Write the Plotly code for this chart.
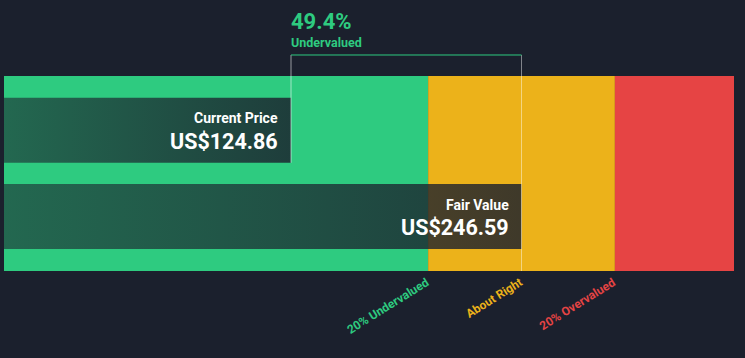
import plotly.graph_objects as go

# ---- data ----
current_price = 124.86
fair_value = 246.59
undervalued_pct = 49.4
band_labels = ["20% Undervalued", "About Right", "20% Overvalued"]
band_ratios = [0.8, 1.2]          # band edges relative to fair value
band_colors = ["#2ecb80", "#ecb21a", "#e64444"]
label_colors = ["#2ecb80", "#ecb21a", "#e64444"]

BG = "#1b202d"
X_MIN, X_MAX = -26.7, 358.8

edges = [X_MIN] + [fair_value * r for r in band_ratios] + [X_MAX]

fig = go.Figure()

# colored bands
for i in range(3):
    fig.add_shape(type="rect", xref="x", yref="y", x0=edges[i], x1=edges[i + 1],
                  y0=0, y1=1, fillcolor=band_colors[i], line_width=0, layer="below")

# value bars with gradient overlay
bars = [
    ("Current Price", current_price, 0.555, 0.889),
    ("Fair Value", fair_value, 0.113, 0.446),
]
for name, val, yb, yt in bars:
    fig.add_trace(go.Scatter(
        x=[X_MIN, val, val, X_MIN, X_MIN], y=[yb, yb, yt, yt, yb],
        mode="lines", line=dict(width=0), fill="toself",
        fillgradient=dict(type="horizontal",
                          colorscale=[[0, "rgba(27,32,45,0.58)"], [1, "rgba(27,32,45,0.83)"]]),
        hoverinfo="skip", showlegend=False))
    fig.add_annotation(x=val, y=yt - (yt - yb) * 0.32, xref="x", yref="y",
                       text=f"<b>{name}</b>", showarrow=False, xanchor="right",
                       xshift=-11, font=dict(family="Roboto", size=14, color="white"))
    fig.add_annotation(x=val, y=yb + (yt - yb) * 0.33, xref="x", yref="y",
                       text=f"<b>US${val:.2f}</b>", showarrow=False, xanchor="right",
                       xshift=-11, font=dict(family="Roboto", size=21.5, color="white"))

# bracket
top = 1.1077
fig.add_shape(type="line", xref="x", yref="y", x0=current_price, x1=current_price,
              y0=0.555, y1=top, line=dict(color="rgba(255,255,255,0.55)", width=1))
fig.add_shape(type="line", xref="x", yref="y", x0=fair_value, x1=fair_value,
              y0=0, y1=top, line=dict(color="rgba(255,255,255,0.45)", width=1))
fig.add_shape(type="line", xref="x", yref="y", x0=current_price, x1=fair_value,
              y0=top, y1=top, line=dict(color="#2ecb80", width=1))

fig.add_annotation(x=current_price, y=1.277, xref="x", yref="y", text=f"<b>{undervalued_pct}%</b>",
                   showarrow=False, xanchor="left", yanchor="middle", xshift=-2,
                   font=dict(family="Roboto", size=22, color="#2ecb80"))
fig.add_annotation(x=current_price, y=1.174, xref="x", yref="y", text="<b>Undervalued</b>",
                   showarrow=False, xanchor="left", yanchor="middle", xshift=-2,
                   font=dict(family="Roboto", size=12.5, color="#2ecb80"))

# rotated band labels
label_x = [fair_value * band_ratios[0], fair_value, fair_value * band_ratios[1]]
for lab, lx, c in zip(band_labels, label_x, label_colors):
    fig.add_annotation(x=lx, y=0, xref="x", yref="y", text=f"<b>{lab}</b>", showarrow=False,
                       textangle=-32, xanchor="right", yanchor="top", yshift=-1, xshift=6,
                       font=dict(family="Roboto", size=12, color=c))

fig.update_xaxes(range=[X_MIN, X_MAX], visible=False, fixedrange=True)
fig.update_yaxes(range=[0, 1.3897], visible=False, fixedrange=True)
fig.update_layout(width=745, height=358, margin=dict(l=4, r=11, t=0, b=87),
                  paper_bgcolor=BG, plot_bgcolor=BG, showlegend=False)

fig.write_html("out.html", config={"displayModeBar": False},
               post_script="document.body.style.margin='0';document.body.style.background='%s';" % BG)
